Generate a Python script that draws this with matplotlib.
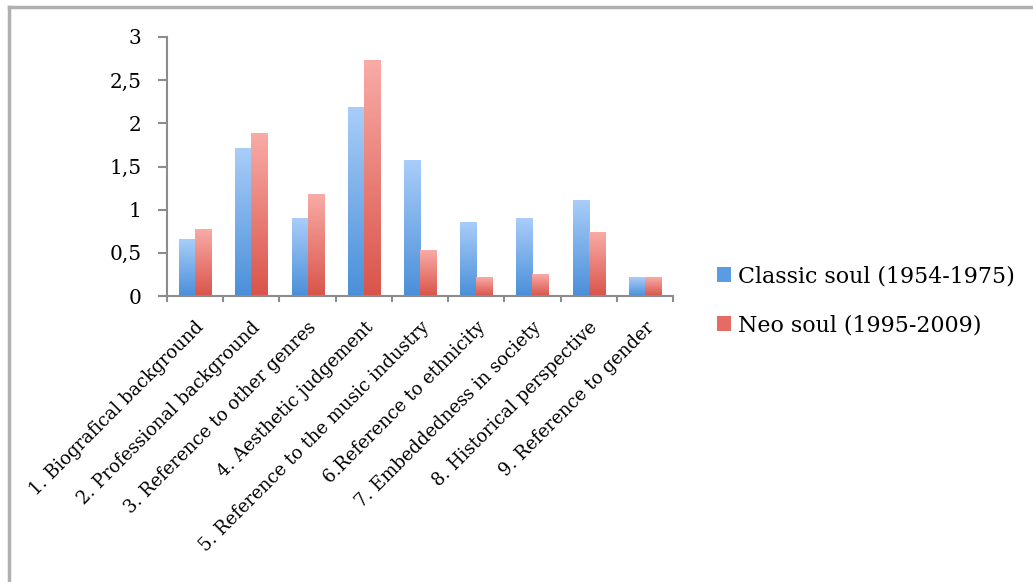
import numpy as np
import matplotlib
matplotlib.use("Agg")
import matplotlib.pyplot as plt
from matplotlib.colors import LinearSegmentedColormap
from matplotlib.lines import Line2D
from matplotlib.patches import Patch

# ---- data ----
categories = [
    "1. Biografical background",
    "2. Professional background",
    "3. Reference to other genres",
    "4. Aesthetic judgement",
    "5. Reference to the music industry",
    "6.Reference to ethnicity",
    "7. Embeddedness in society",
    "8. Historical perspective",
    "9. Reference to gender",
]
classic_soul = [0.66, 1.71, 0.90, 2.18, 1.57, 0.855, 0.90, 1.11, 0.22]
neo_soul = [0.77, 1.88, 1.17, 2.73, 0.53, 0.22, 0.25, 0.735, 0.21]
series_labels = ["Classic soul (1954-1975)", "Neo soul (1995-2009)"]
y_ticks = [0, 0.5, 1, 1.5, 2, 2.5, 3]
y_tick_labels = ["0", "0,5", "1", "1,5", "2", "2,5", "3"]

FONT = "DejaVu Serif"
AXIS_GRAY = "#8c8c8c"
plt.rcParams["font.family"] = FONT

blue_cmap = LinearSegmentedColormap.from_list("blue", ["#4a8fd9", "#a9cdf9"])
red_cmap = LinearSegmentedColormap.from_list("red", ["#d9544a", "#f9aba6"])

fig = plt.figure(figsize=(10.33, 5.82), dpi=100)
ax = fig.add_axes([167 / 1033, 1 - 296 / 582, (673 - 167) / 1033, (296 - 37) / 582])

x = np.arange(len(categories))
bar_w = 0.285


def gradient_bars(xpos, values, cmap):
    # bars are drawn empty, then filled with a vertical gradient per bar
    bars = ax.bar(xpos, values, width=bar_w, color="none", edgecolor="none")
    grad = np.linspace(0, 1, 256).reshape(-1, 1)
    for rect in bars:
        x0 = rect.get_x()
        ax.imshow(grad, extent=[x0, x0 + rect.get_width(), 0, rect.get_height()],
                  origin="lower", aspect="auto", cmap=cmap, zorder=2)
    return bars


gradient_bars(x - bar_w / 2, classic_soul, blue_cmap)
gradient_bars(x + bar_w / 2, neo_soul, red_cmap)

ax.set_xlim(-0.5, len(categories) - 0.5)
ax.set_ylim(0, 3)

# axes styling
for side in ("top", "right"):
    ax.spines[side].set_visible(False)
for side in ("left", "bottom"):
    ax.spines[side].set_color(AXIS_GRAY)
    ax.spines[side].set_linewidth(1.5)

ax.set_yticks(y_ticks, y_tick_labels, fontsize=14.5, fontfamily=FONT)
ax.tick_params(axis="y", direction="out", length=6.5, width=1.5, color=AXIS_GRAY, pad=12)

ax.set_xticks(x, categories, rotation=45, ha="right", rotation_mode="anchor",
              fontsize=13, fontfamily=FONT)
ax.set_xticks(np.arange(len(categories) + 1) - 0.5, minor=True)
ax.tick_params(axis="x", which="major", length=0, pad=16)
ax.tick_params(axis="x", which="minor", direction="out", length=4, width=1.5,
               color=AXIS_GRAY)

# legend
handles = [Patch(facecolor="#5b9be3", edgecolor="none"),
           Patch(facecolor="#e56c64", edgecolor="none")]
fig.legend(handles, series_labels, loc="center left",
           bbox_to_anchor=(697 / 1033, 1 - 301 / 582), frameon=False,
           prop={"family": FONT, "size": 15.9}, handlelength=0.65, handleheight=0.65,
           handletextpad=0.3, labelspacing=1.22)

# outer frame lines along top and left edge
frame_kw = dict(color="#b0b0b0", linewidth=2.5, transform=fig.transFigure)
fig.add_artist(Line2D([9 / 1033, 1], [1 - 7 / 582, 1 - 7 / 582], **frame_kw))
fig.add_artist(Line2D([9 / 1033, 9 / 1033], [0, 1 - 7 / 582], **frame_kw))

fig.savefig("out.png", dpi=100)
